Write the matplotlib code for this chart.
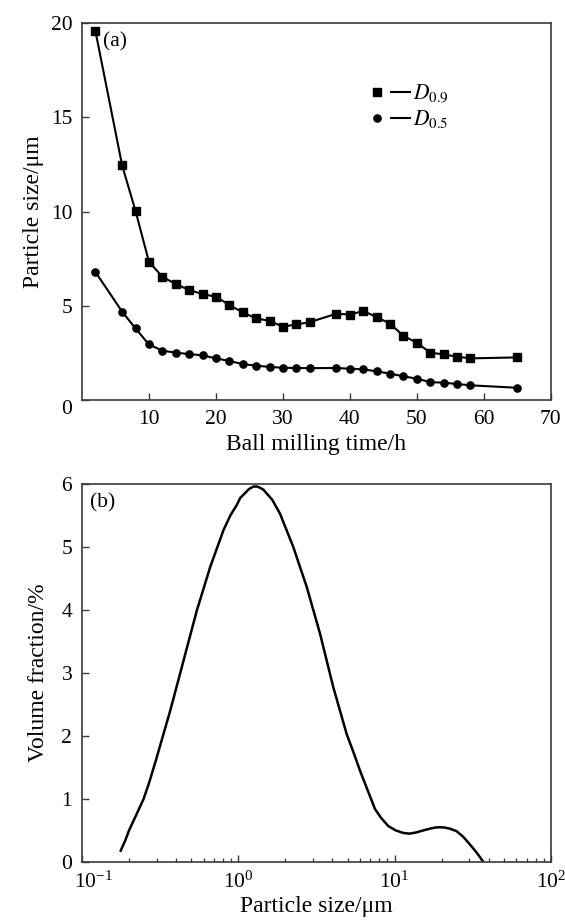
import matplotlib
matplotlib.use("Agg")
import matplotlib.pyplot as plt
from matplotlib.lines import Line2D
from matplotlib.legend_handler import HandlerTuple
from matplotlib.transforms import ScaledTranslation
import matplotlib.ticker as mticker

# (a) particle size vs ball milling time
time_h = [2, 6, 8, 10, 12, 14, 16, 18, 20, 22, 24, 26, 28, 30, 32, 34,
          38, 40, 42, 44, 46, 48, 50, 52, 54, 56, 58, 65]
d09 = [19.6, 12.45, 10.03, 7.34, 6.54, 6.15, 5.84, 5.62, 5.48, 5.04, 4.65,
       4.33, 4.2, 3.89, 4.01, 4.13, 4.58, 4.53, 4.72, 4.4, 4.05, 3.4, 3.04,
       2.51, 2.42, 2.3, 2.21, 2.26]
d05 = [6.8, 4.69, 3.8, 2.95, 2.62, 2.51, 2.44, 2.37, 2.21, 2.07, 1.91,
       1.82, 1.76, 1.71, 1.7, 1.69, 1.7, 1.66, 1.63, 1.52, 1.4, 1.26, 1.13,
       0.95, 0.92, 0.85, 0.78, 0.65]

# (b) particle size distribution
size_um = [0.177, 0.19, 0.20, 0.22, 0.248, 0.27, 0.301, 0.367, 0.447,
           0.543, 0.661, 0.805, 0.89, 0.98, 1.03, 1.10, 1.17, 1.25, 1.32,
           1.38, 1.45, 1.52, 1.65, 1.85, 2.25, 2.74, 3.34, 4.06, 4.94, 5.5,
           6.01, 6.7, 7.5, 8.2, 9.12, 10.2, 11.4, 12.5, 13.8, 15.2, 16.9,
           18.5, 20.5, 22.5, 24.9, 27.5, 30.3, 33.5, 37.0]
vol_frac = [0.18, 0.35, 0.5, 0.72, 1.0, 1.27, 1.66, 2.4, 3.2,
            3.99, 4.68, 5.27, 5.5, 5.67, 5.78, 5.85, 5.92, 5.96, 5.96,
            5.94, 5.91, 5.85, 5.75, 5.53, 5.0, 4.37, 3.62, 2.77, 2.03, 1.72,
            1.45, 1.15, 0.84, 0.7, 0.57, 0.5, 0.46, 0.45, 0.47, 0.5, 0.53,
            0.55, 0.55, 0.53, 0.49, 0.4, 0.28, 0.15, 0.0]

plt.rcParams['font.family'] = ['Liberation Serif', 'DejaVu Serif']
plt.rcParams['mathtext.fontset'] = 'stix'
plt.rcParams['font.size'] = 15.5

spine_col = '#3a3a3a'
label_fs = 17

fig = plt.figure(figsize=(5.65, 9.23), dpi=100)
ax1 = fig.add_axes([0.145, 0.5666, 0.830, 0.4085])
ax2 = fig.add_axes([0.145, 0.0661, 0.830, 0.4095])

for ax in (ax1, ax2):
    for s in ax.spines.values():
        s.set_color(spine_col)
        s.set_linewidth(1.2)
    ax.tick_params(direction='in', length=5, width=1.0, color=spine_col,
                   top=False, right=False, pad=7)
    ax.tick_params(which='minor', direction='in', length=3, width=0.9,
                   color=spine_col, top=False, right=False)

# panel (a)
ax1.plot(time_h, d09, '-s', color='k', lw=1.5, ms=5.2)
ax1.plot(time_h, d05, '-o', color='k', lw=1.5, ms=5.2)
ax1.set_xlim(0, 70)
ax1.set_ylim(0, 20)
ax1.set_xticks([10, 20, 30, 40, 50, 60, 70])
ax1.set_yticks([0, 5, 10, 15, 20])
ax1.set_xlabel('Ball milling time/h', fontsize=label_fs, labelpad=4)
ax1.set_ylabel('Particle size/μm', fontsize=label_fs, labelpad=5)
ax1.text(0.045, 0.95, '(a)', transform=ax1.transAxes, va='center', ha='left')

h09 = (Line2D([], [], marker='s', ls='none', color='k', ms=5.2),
       Line2D([], [], ls='-', color='k', lw=1.5))
h05 = (Line2D([], [], marker='o', ls='none', color='k', ms=5.2),
       Line2D([], [], ls='-', color='k', lw=1.5))
ax1.legend([h09, h05], [r'$D_{0.9}$', r'$D_{0.5}$'],
           handler_map={tuple: HandlerTuple(ndivide=None, pad=0.2)},
           loc='upper left', bbox_to_anchor=(0.585, 0.87), frameon=False,
           borderpad=0, handlelength=2.0, handletextpad=0.15,
           labelspacing=0.15)

# panel (b)
ax2.plot(size_um, vol_frac, '-', color='k', lw=1.8)
ax2.set_xscale('log')
ax2.set_xlim(0.1, 100)
ax2.set_ylim(0, 6)
ax2.set_yticks([0, 1, 2, 3, 4, 5, 6])
ax2.set_xticks([0.1, 1, 10, 100])
ax2.xaxis.set_minor_locator(mticker.LogLocator(base=10, subs=range(2, 10)))
ax2.xaxis.set_minor_formatter(mticker.NullFormatter())
ax2.set_xlabel('Particle size/μm', fontsize=label_fs, labelpad=2)
ax2.set_ylabel('Volume fraction/%', fontsize=label_fs, labelpad=9)
ax2.text(0.018, 0.95, '(b)', transform=ax2.transAxes, va='center', ha='left')

# nudge the corner tick labels so they sit like in the original
fig.canvas.draw()
ax1.get_yticklabels()[0].set_va('top')
lab = ax2.get_xticklabels()[0]
lab.set_transform(lab.get_transform()
                  + ScaledTranslation(8 / 72, 0, fig.dpi_scale_trans))

fig.savefig('out.png', dpi=100)
